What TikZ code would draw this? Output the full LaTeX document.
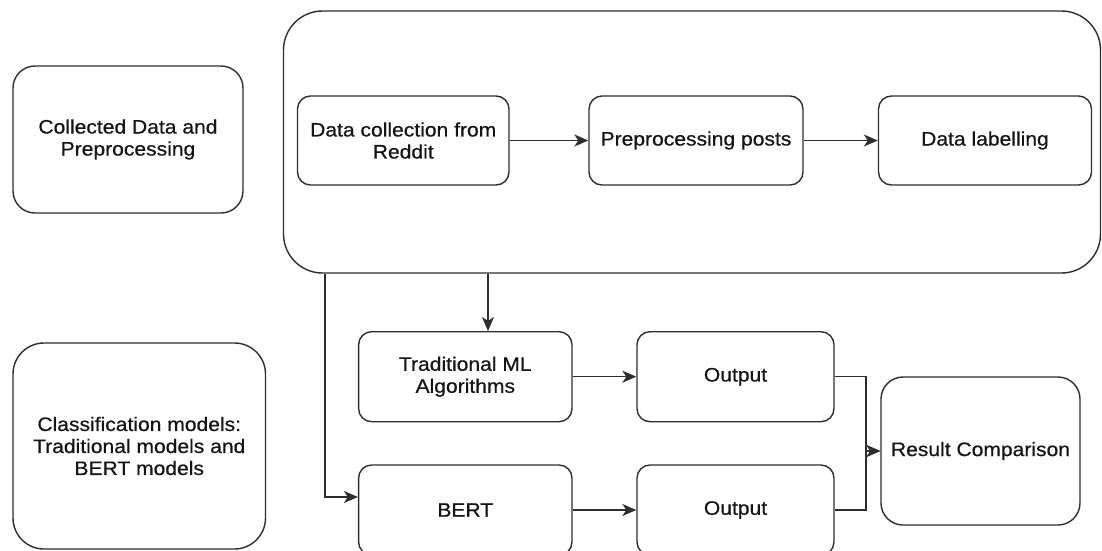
\documentclass[tikz,border=0pt]{standalone}
\usepackage{fontspec}
\setmainfont{Liberation Sans}[FakeStretch=1.08,FakeBold=0.6]
\usetikzlibrary{arrows.meta,calc}
\definecolor{ln}{HTML}{2E2E2E}
\definecolor{tx}{HTML}{151515}
\begin{document}
\begin{tikzpicture}[x=1pt,y=-1pt,
  box/.style={draw=ln,line width=1.4pt,align=center,text=tx,inner sep=2pt,
    font=\fontsize{19.5}{22}\selectfont},
  arr/.style={draw=ln,line width=1.4pt,-{Stealth[length=14pt,width=12pt,inset=4pt]}}]
\useasboundingbox (0,0) rectangle (1102,550);
% left boxes
\node[box,rounded corners=22pt,minimum width=230pt,minimum height=147pt] (b1) at (128,139.5) {Collected Data and\\Preprocessing};
\node[box,rounded corners=31pt,minimum width=252.5pt,minimum height=206pt] (b2) at (139.25,446) {Classification models:\\Traditional models and\\BERT models};
% container
\node[box,rounded corners=39pt,minimum width=817pt,minimum height=262pt] (ct) at (692,142) {};
% inner boxes
\node[box,rounded corners=13pt,minimum width=211.5pt,minimum height=89pt] (dc) at (403.25,140.5) {Data collection from\\Reddit};
\node[box,rounded corners=13pt,minimum width=214pt,minimum height=89pt] (pp) at (696,140.5) {Preprocessing posts};
\node[box,rounded corners=13pt,minimum width=213pt,minimum height=89pt] (dl) at (985,140.5) {Data labelling};
% models
\node[box,rounded corners=13pt,minimum width=213.4pt,minimum height=90pt] (tr) at (465.3,376.7) {Traditional ML\\Algorithms};
\node[box,rounded corners=13pt,minimum width=197pt,minimum height=90pt] (o1) at (735.5,376.7) {Output};
\node[box,rounded corners=13pt,minimum width=213.4pt,minimum height=90pt] (bt) at (465.3,510) {BERT};
\node[box,rounded corners=13pt,minimum width=197pt,minimum height=90pt] (o2) at (735.5,510) {Output};
\node[box,rounded corners=22pt,minimum width=199pt,minimum height=148pt] (rc) at (980.5,451) {Result Comparison};
% helper coordinates
\coordinate (a1) at (488,0);
\coordinate (a2) at (325,497);
\coordinate (j) at (866,0);
% connectors
\draw[arr] (dc.east) -- (pp.west);
\draw[arr] (pp.east) -- (dl.west);
\draw[arr] (ct.south -| a1) -- (tr.north -| a1);
\draw[arr] (ct.south -| a2) |- (bt.west |- a2);
\draw[arr] (tr.east) -- (o1.west);
\draw[arr] (bt.east) -- (o2.west);
\draw[arr] (o1.east) -| (j |- rc.west) -- (rc.west);
\draw[arr] (o2.east) -| (j |- rc.west) -- (rc.west);
\end{tikzpicture}
\end{document}
